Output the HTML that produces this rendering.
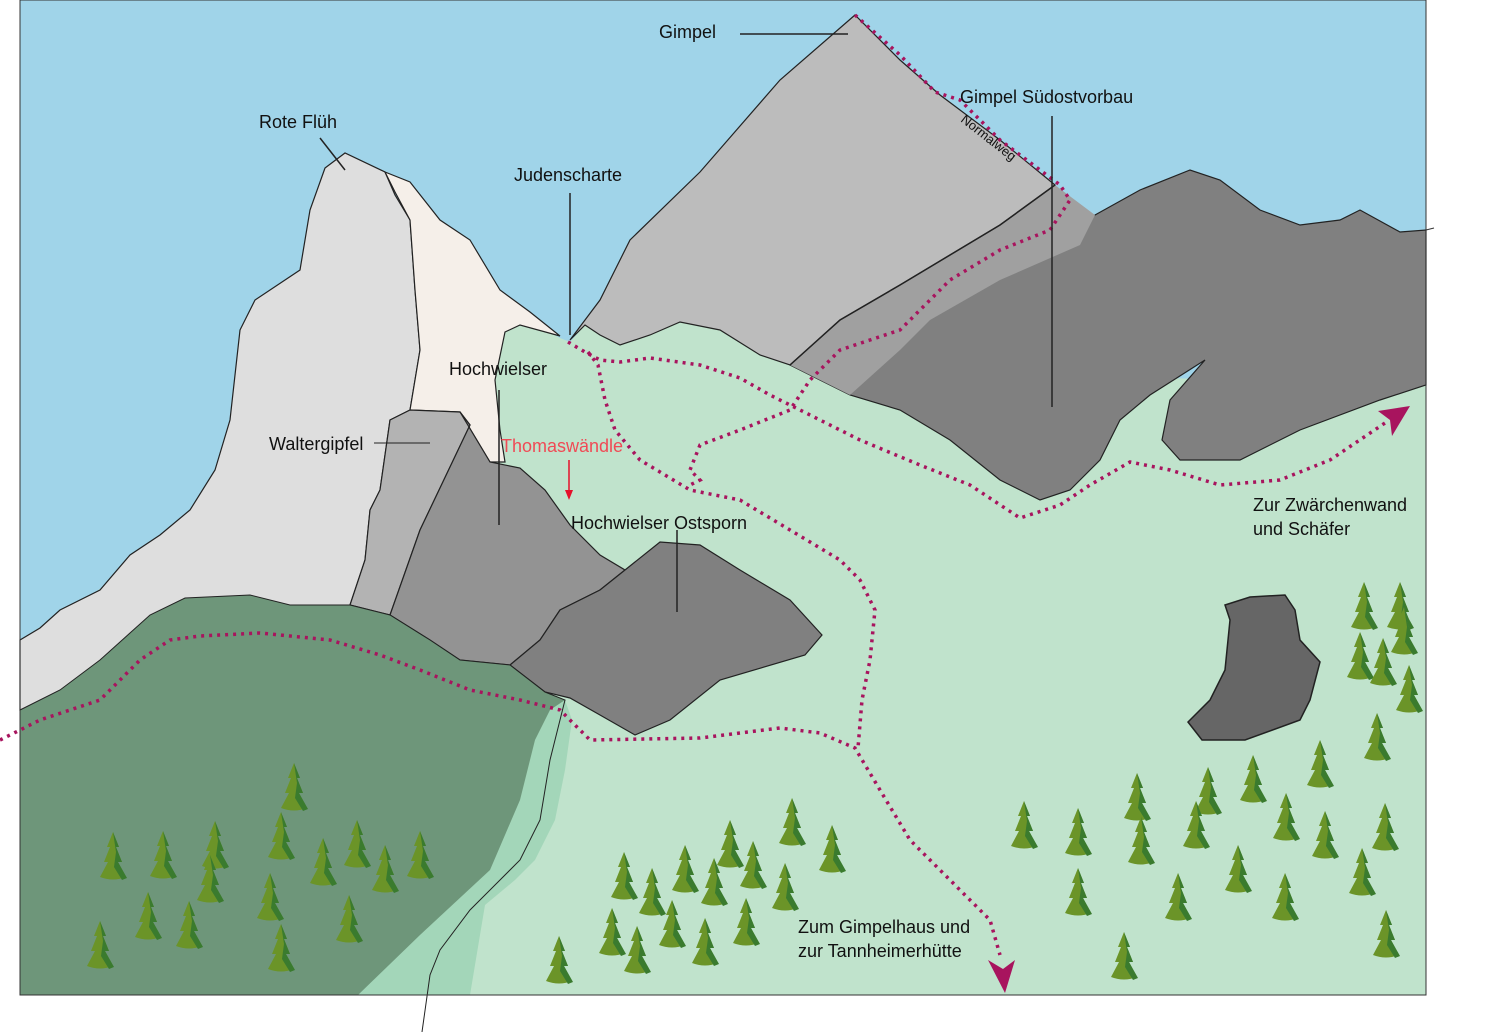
<!DOCTYPE html>
<html><head><meta charset="utf-8"><style>html,body{margin:0;padding:0;background:#fff}svg{display:block}text{font-family:"Liberation Sans",sans-serif;font-size:18px;fill:#111}</style></head>
<body>
<svg width="1500" height="1032" viewBox="0 0 1500 1032" xmlns="http://www.w3.org/2000/svg">
<defs>
<g id="t">
<path d="M0,-45 L-6,-30 L-3,-30 L-9,-15 L-5,-15 L-13,0 Q0,5 13,0 L5,-15 L9,-15 L3,-30 L6,-30 Z" fill="#6b9428"/>
<path d="M0,-45 L6,-30 L3,-30 L9,-15 L5,-15 L14,1 L9,3 L1,-10 L3,-25 Z" fill="#3a7b2e"/>
</g>
</defs>
<rect x="20" y="0" width="1406" height="995" fill="#a0d4e9"/>
<path d="M505,330 L520,325 L545,330 L560,338 L570,342 L585,325 L600,335 L620,345 L650,335 L680,322 L720,330 L760,355 L800,368 L1426,385 L1426,995 L20,995 L20,640 Z" fill="#c0e3cc"/>
<path d="M20,640 L40,628 L60,610 L100,590 L130,555 L160,535 L190,510 L215,470 L230,420 L240,330 L255,300 L300,270 L310,210 L325,168 L345,153 L385,172 L395,195 L410,220 L415,290 L420,350 L410,410 L390,420 L380,490 L370,510 L365,560 L350,605 L20,710 Z" fill="#dedede" stroke="#222" stroke-width="1.2"/>
<path d="M385,172 L410,182 L440,220 L470,240 L500,290 L530,312 L560,336 L520,325 L505,332 L495,380 L500,430 L505,462 L490,462 L460,412 L410,410 L420,350 L415,290 L410,220 L395,192 Z" fill="#f5efe9" stroke="#222" stroke-width="1.2"/>
<path d="M410,410 L460,412 L470,425 L420,530 L390,615 L350,605 L365,560 L370,510 L380,490 L390,420 Z" fill="#b3b3b3" stroke="#222" stroke-width="1.2"/>
<path d="M460,412 L490,462 L520,468 L545,490 L570,525 L600,555 L625,570 L600,590 L560,610 L540,640 L510,665 L460,660 L430,640 L390,615 L420,530 L470,425 Z" fill="#939393" stroke="#222" stroke-width="1.2"/>
<path d="M625,570 L660,542 L700,545 L740,570 L790,600 L822,635 L805,655 L720,680 L670,720 L635,735 L600,715 L570,698 L545,692 L510,665 L540,640 L560,610 L600,590 Z" fill="#808080" stroke="#222" stroke-width="1.2"/>
<path d="M1095,215 L1140,190 L1190,170 L1220,180 L1260,210 L1300,225 L1340,220 L1360,210 L1400,232 L1426,230 L1426,385 L1380,400 L1300,430 L1240,460 L1180,460 L1162,440 L1170,400 L1205,360 L1150,395 L1120,420 L1100,460 L1070,490 L1040,500 L1000,480 L950,440 L900,410 L850,395 L810,375 L790,365 L800,355 L880,300 L1000,240 L1055,218 Z" fill="#808080" stroke="#222" stroke-width="1.2"/>
<path d="M1055,185 L1095,215 L1080,245 L1000,280 L930,320 L900,350 L850,395 L810,375 L790,365 L840,320 L900,285 L1000,225 Z" fill="#a0a0a0"/>
<path d="M570,340 L600,300 L630,240 L700,172 L780,80 L855,15 L900,60 L940,95 L1000,140 L1055,185 L1000,225 L900,285 L840,320 L790,365 L760,355 L720,330 L680,322 L650,335 L620,345 L600,335 L585,325 Z" fill="#bcbcbc" stroke="#222" stroke-width="1.2"/>
<path d="M790,365 L840,320 L900,285 L1000,225 L1055,185" fill="none" stroke="#222" stroke-width="1.5"/>
<path d="M20,710 L60,690 L100,660 L150,615 L185,598 L250,595 L290,605 L350,605 L390,615 L430,640 L460,660 L510,665 L545,692 L565,700 L550,740 L530,800 L500,870 L430,940 L375,995 L20,995 Z" fill="#6e967a" stroke="#222" stroke-width="1"/>
<path d="M565,700 L572,720 L565,770 L555,820 L535,860 L515,880 L485,905 L470,995 L358,995 L420,935 L490,870 L520,800 L535,740 L550,710 Z" fill="#a3d6b9"/>
<path d="M565,700 L550,760 L540,820 L520,860 L470,910 L440,950 L430,975 L422,1032" fill="none" stroke="#222" stroke-width="1"/>
<path d="M1225,605 L1250,597 L1285,595 L1295,610 L1300,640 L1320,662 L1310,700 L1300,720 L1245,740 L1202,740 L1188,722 L1210,700 L1225,670 L1230,620 Z" fill="#666" stroke="#222" stroke-width="1.5"/>
<rect x="20" y="0" width="1406" height="995" fill="none" stroke="#333" stroke-width="1"/>
<line x1="1426" y1="230" x2="1434" y2="228" stroke="#333"/>
<g fill="none" stroke="#a8145e" stroke-width="3.5" stroke-dasharray="3 5">
<path d="M855,15 L900,55 L935,92 L960,100 L1000,140 L1060,185 L1070,200 L1050,230 L1000,250 L950,280 L900,330 L840,350 L810,380 L790,410 L740,430 L700,445 L690,470 L700,480 L690,485"/>
<path d="M568,342 L585,352 L600,360 L620,362 L650,358 L700,365 L740,378 L770,395 L800,410 L860,440 L920,465 L970,485 L1020,518 L1060,505 L1090,485 L1130,462 L1170,470 L1220,485 L1280,480 L1330,460 L1385,423"/>
<path d="M588,352 L598,365 L605,400 L615,430 L640,460 L665,475 L690,490 L740,500 L790,530 L840,560 L860,580 L875,610 L870,660 L862,700 L858,748"/>
<path d="M0,740 L40,720 L100,700 L140,660 L170,640 L200,636 L260,633 L330,640 L380,655 L420,670 L470,690 L520,700 L560,710 L590,740 L700,738 L780,728 L820,733 L855,748 L880,790 L910,840 L960,890 L990,920 L1000,955"/>
</g>
<path d="M1378,411 L1410,406 L1392,436 L1390,420 Z" fill="#a8145e"/>
<path d="M988,960 L1003,969 L1015,960 L1005,993 Z" fill="#a8145e"/>
<g>
<use href="#t" x="113" y="877"/><use href="#t" x="163" y="876"/>
<use href="#t" x="215" y="866"/><use href="#t" x="281" y="857"/><use href="#t" x="294" y="808"/>
<use href="#t" x="357" y="865"/><use href="#t" x="420" y="876"/><use href="#t" x="323" y="883"/>
<use href="#t" x="385" y="890"/><use href="#t" x="210" y="900"/><use href="#t" x="270" y="918"/>
<use href="#t" x="148" y="937"/><use href="#t" x="349" y="940"/><use href="#t" x="189" y="946"/>
<use href="#t" x="100" y="966"/><use href="#t" x="281" y="969"/>
<use href="#t" x="624" y="897"/><use href="#t" x="685" y="890"/><use href="#t" x="730" y="865"/>
<use href="#t" x="792" y="843"/><use href="#t" x="832" y="870"/><use href="#t" x="652" y="913"/>
<use href="#t" x="714" y="903"/><use href="#t" x="753" y="886"/><use href="#t" x="785" y="908"/>
<use href="#t" x="612" y="953"/><use href="#t" x="672" y="945"/><use href="#t" x="705" y="963"/>
<use href="#t" x="746" y="943"/><use href="#t" x="637" y="971"/><use href="#t" x="559" y="981"/>
<use href="#t" x="1024" y="846"/><use href="#t" x="1078" y="853"/><use href="#t" x="1137" y="818"/>
<use href="#t" x="1141" y="862"/><use href="#t" x="1208" y="812"/><use href="#t" x="1196" y="846"/>
<use href="#t" x="1253" y="800"/><use href="#t" x="1286" y="838"/><use href="#t" x="1320" y="785"/>
<use href="#t" x="1325" y="856"/><use href="#t" x="1385" y="848"/><use href="#t" x="1238" y="890"/>
<use href="#t" x="1178" y="918"/><use href="#t" x="1078" y="913"/><use href="#t" x="1285" y="918"/>
<use href="#t" x="1362" y="893"/><use href="#t" x="1386" y="955"/><use href="#t" x="1124" y="977"/>
<use href="#t" x="1364" y="627"/><use href="#t" x="1400" y="627"/><use href="#t" x="1404" y="652"/>
<use href="#t" x="1360" y="677"/><use href="#t" x="1383" y="683"/><use href="#t" x="1409" y="710"/>
<use href="#t" x="1377" y="758"/>
</g>
<g stroke="#222" stroke-width="1.5">
<line x1="740" y1="34" x2="848" y2="34"/>
<line x1="320" y1="138" x2="345" y2="170"/>
<line x1="570" y1="193" x2="570" y2="335"/>
<line x1="1052" y1="116" x2="1052" y2="407"/>
<line x1="499" y1="390" x2="499" y2="525"/>
<line x1="374" y1="443" x2="430" y2="443" stroke-width="1"/>
<line x1="677" y1="530" x2="677" y2="612"/>
</g>
<line x1="569" y1="460" x2="569" y2="492" stroke="#e5102a" stroke-width="1.5"/>
<path d="M565,490 L573,490 L569,500 Z" fill="#e5102a"/>
<text x="659" y="38">Gimpel</text>
<text x="960" y="103">Gimpel Südostvorbau</text>
<text x="259" y="128">Rote Flüh</text>
<text x="514" y="181">Judenscharte</text>
<text x="449" y="375">Hochwielser</text>
<text x="269" y="450">Waltergipfel</text>
<text x="501" y="452" style="fill:#f04a55">Thomaswändle</text>
<text x="571" y="529">Hochwielser Ostsporn</text>
<text x="1253" y="511">Zur Zwärchenwand</text>
<text x="1253" y="535">und Schäfer</text>
<text x="798" y="933">Zum Gimpelhaus und</text>
<text x="798" y="957">zur Tannheimerhütte</text>
<text x="0" y="0" transform="translate(960,121) rotate(38)" style="font-size:13px">Normalweg</text>
</svg>
</body></html>
